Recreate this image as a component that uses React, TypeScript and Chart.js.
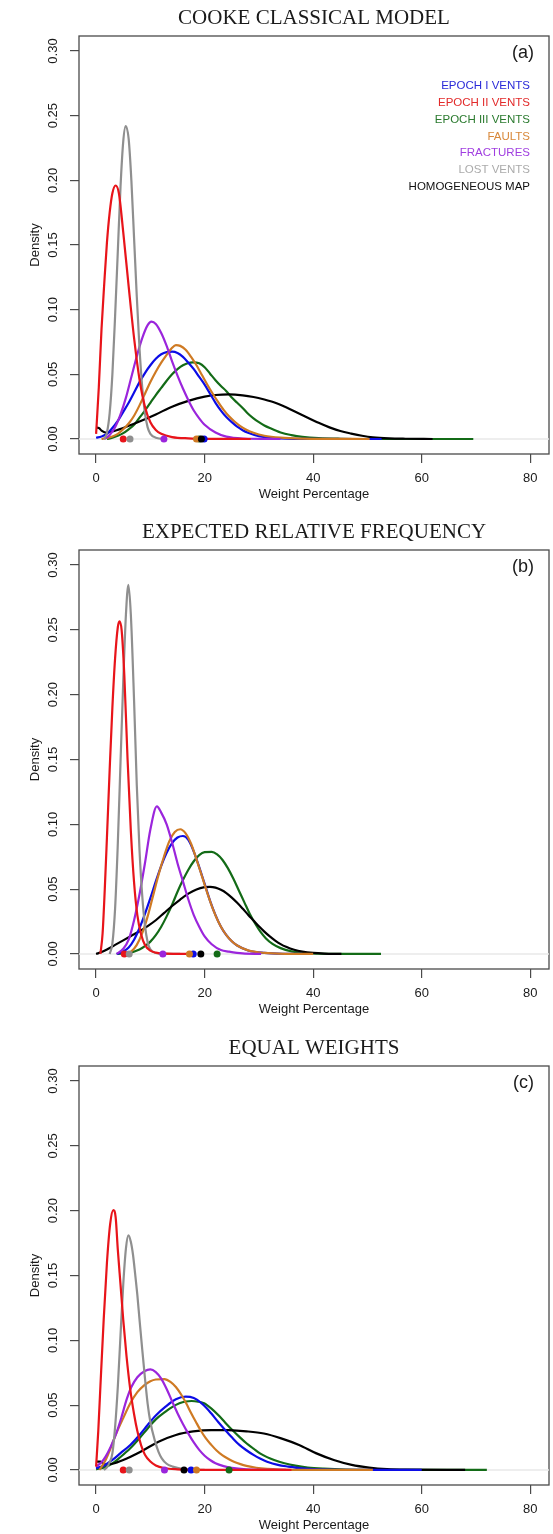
import React, { useEffect, useRef } from 'react';
import { Chart, registerables } from 'chart.js';

Chart.register(...registerables);

type Pt = [number, number];

// ---------- shared labels / ticks ----------
const SERIES_NAMES = ['EPOCH I VENTS', 'EPOCH II VENTS', 'EPOCH III VENTS', 'FAULTS', 'FRACTURES', 'LOST VENTS', 'HOMOGENEOUS MAP'];
const LINE_COLORS = ['#0c0ce6', '#e8141a', '#136b17', '#cf7a23', '#9b25dc', '#8f8f8f', '#000000'];
const LEGEND_COLORS = ['#2a2ad8', '#e22a2a', '#2a7a2e', '#d8883a', '#a03ee0', '#ababab', '#111111'];
const SERIES_ORDER = [5, 1, 7, 4, 3, 2, 6]; // higher = drawn first (underneath)
const X_TICKS = [0, 20, 40, 60, 80];
const Y_TICKS = [0, 0.05, 0.1, 0.15, 0.2, 0.25, 0.3];
const Y_TICK_LABELS = ['0.00', '0.05', '0.10', '0.15', '0.20', '0.25', '0.30'];
const PANEL_TITLES = ['COOKE CLASSICAL MODEL', 'EXPECTED RELATIVE FREQUENCY', 'EQUAL WEIGHTS'];
const PANEL_TAGS = ['(a)', '(b)', '(c)'];
const X_MIN = -3.15;
const X_MAX = 83.45;
const Y_MIN = -0.0116;
const Y_MAX = 0.3116;

// ---------- panel (a) Cooke classical model ----------
const A_EPOCH_I: Pt[] = [[0,0.001],[1,0.002],[2,0.004],[3,0.0085],[4,0.014],[5,0.021],[6,0.028],[7,0.036],[8,0.044],[9,0.051],[10,0.057],[11,0.062],[12,0.0655],[13,0.0672],[14,0.0675],[15,0.0665],[16,0.0635],[17,0.059],[18,0.054],[19,0.048],[20,0.042],[21,0.035],[22,0.028],[23,0.022],[24,0.017],[25,0.013],[26,0.0095],[27,0.0068],[28,0.0048],[30,0.0022],[33,0.0007],[38,0.0001],[52.6,0]];
const A_EPOCH_II: Pt[] = [[0,0.004],[0.5,0.04],[1,0.085],[1.5,0.12],[2,0.152],[2.5,0.175],[3,0.19],[3.6,0.196],[4.2,0.19],[5,0.16],[6,0.118],[7,0.078],[8,0.046],[9,0.025],[10,0.013],[11,0.007],[12,0.004],[14,0.0015],[17,0.0005],[22,0.0001],[28.5,0]];
const A_EPOCH_III: Pt[] = [[2,0],[3,0.001],[4,0.0025],[5,0.0045],[6,0.0075],[7,0.011],[8,0.0165],[9,0.022],[10,0.028],[11,0.034],[12,0.0395],[13,0.045],[14,0.05],[15,0.054],[16,0.057],[17,0.0588],[17.8,0.0592],[19,0.0585],[20,0.0555],[21,0.0505],[22,0.0455],[23,0.041],[24,0.037],[25,0.032],[26,0.028],[27,0.024],[28,0.0195],[29,0.016],[30,0.013],[31,0.0105],[32,0.0085],[34,0.005],[36,0.003],[38,0.0017],[41,0.0007],[45,0.0002],[50,0],[69.5,0]];
const A_FAULTS: Pt[] = [[1,0],[2,0.0008],[3,0.002],[4,0.004],[5,0.0075],[6,0.012],[7,0.018],[8,0.026],[9,0.035],[10,0.044],[11,0.052],[12,0.059],[13,0.065],[14,0.0705],[14.7,0.0726],[15.5,0.072],[16.5,0.069],[17.5,0.0635],[18.5,0.057],[19.5,0.0495],[20.5,0.042],[21.5,0.035],[22.5,0.0285],[23.5,0.0225],[24.5,0.0175],[25.5,0.0135],[26.5,0.0102],[27.5,0.0076],[29,0.0048],[31,0.0025],[34,0.001],[38,0.0003],[43,0.0001],[50.4,0]];
const A_FRACTURES: Pt[] = [[1.5,0],[2.5,0.003],[3.5,0.009],[4.5,0.019],[5.5,0.032],[6.5,0.048],[7.5,0.064],[8.5,0.078],[9.5,0.088],[10.2,0.0907],[11,0.089],[12,0.082],[13,0.072],[14,0.06],[15,0.049],[16,0.039],[17,0.03],[18,0.022],[19,0.016],[20,0.011],[22,0.005],[24,0.0018],[27,0.0004],[34,0]];
const A_LOST: Pt[] = [[1.5,0],[2,0.005],[2.5,0.02],[3,0.05],[3.5,0.095],[4,0.145],[4.5,0.195],[5,0.23],[5.45,0.242],[6,0.232],[6.5,0.2],[7,0.155],[7.5,0.11],[8,0.07],[8.5,0.04],[9,0.02],[9.5,0.009],[10,0.004],[11,0.001],[13,0]];
const A_HOMOG: Pt[] = [[0,0.0088],[0.5,0.0085],[1,0.0065],[1.75,0.005],[3,0.0058],[5,0.0085],[8,0.0135],[11,0.019],[14,0.025],[17,0.0295],[20,0.0328],[22,0.034],[24.5,0.0345],[27,0.0338],[29,0.0325],[31,0.0305],[33,0.028],[35,0.0245],[37,0.0205],[39,0.0165],[41,0.0125],[43,0.009],[45,0.0062],[47,0.0042],[49,0.0025],[51,0.0013],[54,0.0005],[57,0.0002],[62,0]];
const A_MEANS = [19.9, 5.0, 19.0, 18.5, 12.5, 6.25, 19.4];

// ---------- panel (b) expected relative frequency ----------
const B_EPOCH_I: Pt[] = [[3.8,0],[5,0.002],[6,0.005],[7,0.011],[8,0.02],[9,0.031],[10,0.043],[11,0.056],[12,0.068],[13,0.078],[14,0.0855],[15,0.0898],[16,0.091],[17,0.088],[18,0.079],[19,0.067],[20,0.054],[21,0.041],[22,0.03],[23,0.021],[24,0.0145],[25,0.0098],[26,0.0065],[28,0.0027],[31,0.0008],[35,0.0001],[38,0]];
const B_EPOCH_II: Pt[] = [[0.8,0],[1.2,0.016],[1.6,0.05],[2,0.09],[2.5,0.142],[3,0.19],[3.5,0.228],[4,0.252],[4.3,0.2566],[4.7,0.25],[5.2,0.215],[5.8,0.15],[6.4,0.095],[7,0.055],[7.6,0.03],[8.3,0.015],[9,0.007],[10,0.0025],[11,0.001],[13,0.0002],[17,0]];
const B_EPOCH_III: Pt[] = [[3.8,0],[6,0.0008],[8,0.0035],[9,0.006],[10,0.0095],[11,0.0145],[12,0.021],[13,0.029],[14,0.038],[15,0.048],[16,0.057],[17,0.065],[18,0.0715],[19,0.0762],[20,0.0785],[21.3,0.0788],[22.3,0.0768],[23.3,0.0725],[24.3,0.066],[25.3,0.058],[26.3,0.049],[27.3,0.04],[28.3,0.031],[29.3,0.0235],[30.3,0.017],[31.3,0.012],[32.5,0.0078],[34,0.0045],[36,0.002],[38,0.0008],[41,0.0002],[45,0],[52.5,0]];
const B_FAULTS: Pt[] = [[5.5,0],[6.5,0.002],[7.5,0.007],[8.5,0.016],[9.5,0.029],[10.5,0.045],[11.5,0.061],[12.5,0.075],[13.5,0.087],[14.5,0.094],[15.5,0.0962],[16.5,0.093],[17.5,0.085],[18.5,0.073],[19.5,0.06],[20.5,0.047],[21.5,0.035],[22.5,0.025],[23.5,0.0175],[24.5,0.012],[26,0.0065],[28,0.0028],[31,0.0008],[35,0.0001],[40,0]];
const B_FRACTURES: Pt[] = [[3.8,0],[5,0.004],[6,0.011],[7,0.026],[8,0.046],[9,0.07],[10,0.096],[11.2,0.1138],[12,0.109],[13,0.1],[14,0.086],[15,0.07],[16,0.056],[17,0.042],[18,0.03],[19,0.021],[20,0.0135],[21.3,0.0075],[23,0.003],[24.5,0.0018],[27,0.0004],[30.4,0]];
const B_LOST: Pt[] = [[2.5,0],[3,0.008],[3.5,0.035],[4,0.085],[4.5,0.148],[5,0.21],[5.5,0.262],[5.95,0.2848],[6.4,0.262],[7,0.195],[7.5,0.13],[8,0.08],[8.5,0.045],[9,0.022],[9.5,0.009],[10,0.0035],[11,0.0007],[12.5,0],[15.5,0]];
const B_HOMOG: Pt[] = [[0,0],[1,0.0015],[2,0.0035],[3.5,0.007],[5,0.0105],[6.5,0.014],[8,0.0175],[9.5,0.0215],[11,0.026],[12.5,0.0315],[14,0.037],[15.5,0.042],[17,0.0465],[18.5,0.0498],[20,0.0515],[21,0.0518],[22,0.0512],[23,0.0495],[24,0.047],[25,0.0435],[26,0.0395],[27,0.035],[28,0.0303],[29,0.0258],[30,0.0213],[31,0.0172],[32,0.0135],[33,0.0103],[34,0.0076],[35,0.0055],[36.5,0.0032],[38,0.0018],[40,0.0008],[42,0.0003],[45.2,0]];
const B_MEANS = [17.9, 5.2, 22.3, 17.2, 12.3, 6.1, 19.3];

// ---------- panel (c) equal weights ----------
const C_EPOCH_I: Pt[] = [[0,0.0013],[1.5,0.0035],[3,0.0077],[4.5,0.013],[6.3,0.0193],[8,0.027],[9.5,0.0347],[11,0.042],[12.8,0.0488],[14.7,0.0545],[16.5,0.0565],[18,0.0555],[19.3,0.052],[20.3,0.048],[21.2,0.0437],[22.5,0.037],[23.8,0.0308],[25.1,0.0248],[26.4,0.0193],[27.7,0.0152],[29,0.0116],[30.2,0.0088],[31.5,0.0064],[33.5,0.0039],[35.4,0.0026],[38,0.0012],[40.6,0.0005],[45,0.0001],[60,0]];
const C_EPOCH_II: Pt[] = [[0,0.0026],[0.4,0.03],[0.8,0.065],[1.4,0.116],[2,0.16],[2.6,0.19],[3.17,0.2004],[3.6,0.195],[4,0.17],[4.5,0.143],[5,0.116],[5.6,0.088],[6.3,0.062],[7,0.043],[7.6,0.03],[8.3,0.019],[9,0.0118],[10,0.0065],[11,0.0035],[12.5,0.0015],[15,0.0005],[20,0.0001],[36,0]];
const C_EPOCH_III: Pt[] = [[0,0.0005],[1.5,0.002],[3,0.005],[4.5,0.01],[6.3,0.0167],[8,0.0245],[9.5,0.032],[11,0.039],[12.8,0.045],[14,0.0485],[15.35,0.0514],[16.5,0.0528],[17.6,0.0532],[18.8,0.0527],[19.9,0.0514],[21.2,0.0475],[22.5,0.0424],[23.8,0.0365],[25.1,0.0308],[26.4,0.0255],[27.7,0.0206],[29,0.0165],[30.2,0.0128],[31.5,0.0099],[32.8,0.0077],[34.7,0.0052],[36.7,0.0033],[39,0.0019],[41.9,0.001],[46,0.0003],[52,0.0001],[72,0]];
const C_FAULTS: Pt[] = [[0.6,0],[1,0.0025],[1.75,0.0077],[2.7,0.017],[3.7,0.028],[5,0.04],[6.3,0.0514],[7.6,0.06],[8.9,0.0655],[10,0.0685],[11,0.0698],[12.6,0.0701],[13.7,0.068],[14.7,0.064],[15.7,0.058],[16.6,0.0514],[17.5,0.044],[18.4,0.037],[19.2,0.031],[20.2,0.0245],[21.2,0.0195],[22.2,0.015],[23.3,0.0112],[24.4,0.0085],[25.5,0.0062],[26.6,0.0045],[27.7,0.0032],[29.5,0.0017],[31.5,0.0008],[34,0.0003],[38,0.0001],[51,0]];
const C_FRACTURES: Pt[] = [[0,0.0026],[1,0.006],[1.75,0.0103],[2.7,0.018],[3.7,0.028],[4.7,0.041],[5.6,0.054],[6.5,0.064],[7.6,0.0715],[8.9,0.0762],[10,0.0776],[11,0.0755],[12,0.0705],[13,0.0625],[14,0.053],[15,0.0438],[16,0.0355],[17,0.028],[18,0.0212],[19,0.0155],[20,0.011],[21,0.0077],[22,0.0052],[23.5,0.003],[25,0.0016],[27.7,0.0004],[30,0.0001],[35,0]];
const C_LOST: Pt[] = [[1.4,0],[2,0.002],[2.5,0.006],[3,0.0128],[3.5,0.033],[4,0.064],[4.5,0.104],[5,0.143],[5.5,0.171],[5.96,0.181],[6.4,0.176],[6.8,0.166],[7.2,0.151],[7.6,0.135],[8,0.116],[8.5,0.093],[9,0.071],[9.5,0.051],[10,0.037],[10.8,0.023],[11.5,0.014],[12.1,0.009],[13,0.0048],[14.1,0.0026],[16,0.0007],[18,0.0001],[20,0]];
const C_HOMOG: Pt[] = [[0,0.0064],[0.8,0.0064],[1.75,0.0042],[3,0.0048],[5,0.0077],[8.2,0.0141],[11.5,0.0218],[14.7,0.027],[17.9,0.0297],[21.2,0.0308],[24.4,0.0307],[27.7,0.0298],[30.9,0.0281],[34.1,0.0244],[37.4,0.0193],[40.6,0.0128],[43.8,0.0077],[47.1,0.0039],[50.3,0.0018],[53.6,0.0006],[57,0.0002],[68,0]];
const C_MEANS = [17.5, 5.0, 24.5, 18.5, 12.6, 6.1, 16.2];

const FONT_SANS = '"Liberation Sans", Arial, Helvetica, sans-serif';
const FONT_SERIF = '"Liberation Serif", "Times New Roman", serif';

interface PanelProps {
  index: number;
  top: number;
  height: number;
  boxTop: number;
  boxBottom: number;
  curves: Pt[][];
  means: number[];
  legend: boolean;
}

function Panel({ index, top, height, boxTop, boxBottom, curves, means, legend }: PanelProps) {
  const ref = useRef<HTMLCanvasElement | null>(null);

  useEffect(() => {
    const canvas = ref.current;
    if (!canvas) return;
    const datasets: any[] = [];
    datasets.push({
      label: 'zero',
      data: [{ x: X_MIN, y: 0 }, { x: X_MAX, y: 0 }],
      borderColor: '#e9e9e9',
      borderWidth: 1.5,
      pointRadius: 0,
      order: 20,
    });
    curves.forEach((pts, i) => {
      datasets.push({
        label: SERIES_NAMES[i],
        data: pts.map(([x, y]) => ({ x, y })),
        borderColor: LINE_COLORS[i],
        borderWidth: 2.2,
        pointRadius: 0,
        fill: false,
        cubicInterpolationMode: 'monotone',
        order: SERIES_ORDER[i],
      });
    });
    datasets.push({
      label: 'means',
      data: means.map((m) => ({ x: m, y: 0 })),
      showLine: false,
      pointRadius: 3.5,
      pointBorderWidth: 0,
      pointBackgroundColor: LINE_COLORS,
      pointBorderColor: LINE_COLORS,
      order: 0,
    });

    const decor = {
      id: 'decor',
      beforeDatasetsDraw(chart: any) {
        const { ctx, chartArea } = chart;
        ctx.save();
        ctx.strokeStyle = '#4a4a4a';
        ctx.lineWidth = 1.3;
        ctx.strokeRect(chartArea.left, chartArea.top, chartArea.right - chartArea.left, chartArea.bottom - chartArea.top);
        ctx.restore();
      },
      afterDraw(chart: any) {
        const { ctx, chartArea } = chart;
        ctx.save();
        ctx.fillStyle = '#1a1a1a';
        ctx.font = `21px ${FONT_SERIF}`;
        ctx.textAlign = 'center';
        ctx.textBaseline = 'middle';
        ctx.fillText(PANEL_TITLES[index], (chartArea.left + chartArea.right) / 2, chartArea.top - 18);
        ctx.font = `18px ${FONT_SANS}`;
        ctx.textAlign = 'right';
        ctx.fillText(PANEL_TAGS[index], chartArea.right - 15, chartArea.top + 17);
        if (legend) {
          ctx.font = `11.5px ${FONT_SANS}`;
          SERIES_NAMES.forEach((name, i) => {
            ctx.fillStyle = LEGEND_COLORS[i];
            ctx.fillText(name, chartArea.right - 19, chartArea.top + 50 + i * 16.8);
          });
        }
        ctx.restore();
      },
    };

    const gridOpts = {
      drawOnChartArea: false,
      drawTicks: true,
      tickLength: 9,
      color: '#4a4a4a',
      lineWidth: 1.2,
    };

    const chart = new Chart(canvas, {
      type: 'line',
      data: { datasets },
      options: {
        responsive: false,
        animation: false,
        devicePixelRatio: 1,
        events: [],
        layout: { padding: { top: boxTop, right: 3, left: 0, bottom: 0 } },
        plugins: {
          legend: { display: false },
          tooltip: { enabled: false },
          title: { display: false },
        },
        scales: {
          x: {
            type: 'linear',
            position: 'bottom',
            min: X_MIN,
            max: X_MAX,
            afterBuildTicks: (s: any) => {
              s.ticks = X_TICKS.map((v) => ({ value: v }));
            },
            afterFit: (s: any) => {
              s.height = height - boxBottom;
            },
            ticks: {
              autoSkip: false,
              maxRotation: 0,
              minRotation: 0,
              padding: 8,
              color: '#1a1a1a',
              font: { size: 13, family: FONT_SANS },
              callback: (v: any) => String(v),
            },
            grid: gridOpts,
            border: { display: false },
            title: {
              display: true,
              text: 'Weight Percentage',
              color: '#1a1a1a',
              font: { size: 13, family: FONT_SANS },
              padding: { top: 0, bottom: height - (boxBottom + 40) - 7.8 },
            },
          },
          y: {
            type: 'linear',
            position: 'left',
            min: Y_MIN,
            max: Y_MAX,
            afterBuildTicks: (s: any) => {
              s.ticks = Y_TICKS.map((v) => ({ value: v }));
            },
            afterFit: (s: any) => {
              s.width = 79;
            },
            ticks: {
              autoSkip: false,
              minRotation: 90,
              maxRotation: 90,
              crossAlign: 'center',
              padding: 4.4,
              color: '#1a1a1a',
              font: { size: 13, family: FONT_SANS },
              callback: (_v: any, i: number) => Y_TICK_LABELS[i],
            },
            grid: gridOpts,
            border: { display: false },
            title: {
              display: true,
              text: 'Density',
              color: '#1a1a1a',
              font: { size: 13, family: FONT_SANS },
              padding: { top: 27.2, bottom: 0 },
            },
          },
        },
      } as any,
      plugins: [decor],
    });
    return () => chart.destroy();
  }, []);

  return (
    <canvas
      ref={ref}
      width={553}
      height={height}
      style={{ position: 'absolute', left: 0, top, width: 553, height, display: 'block' }}
    />
  );
}

export default function App() {
  return (
    <div style={{ position: 'absolute', left: 0, top: 0, width: 553, height: 1534, background: '#ffffff' }}>
      <Panel
        index={0}
        top={0}
        height={505}
        boxTop={36}
        boxBottom={454}
        curves={[A_EPOCH_I, A_EPOCH_II, A_EPOCH_III, A_FAULTS, A_FRACTURES, A_LOST, A_HOMOG]}
        means={A_MEANS}
        legend={true}
      />
      <Panel
        index={1}
        top={505}
        height={515}
        boxTop={45}
        boxBottom={464}
        curves={[B_EPOCH_I, B_EPOCH_II, B_EPOCH_III, B_FAULTS, B_FRACTURES, B_LOST, B_HOMOG]}
        means={B_MEANS}
        legend={false}
      />
      <Panel
        index={2}
        top={1020}
        height={514}
        boxTop={46}
        boxBottom={465}
        curves={[C_EPOCH_I, C_EPOCH_II, C_EPOCH_III, C_FAULTS, C_FRACTURES, C_LOST, C_HOMOG]}
        means={C_MEANS}
        legend={false}
      />
    </div>
  );
}
